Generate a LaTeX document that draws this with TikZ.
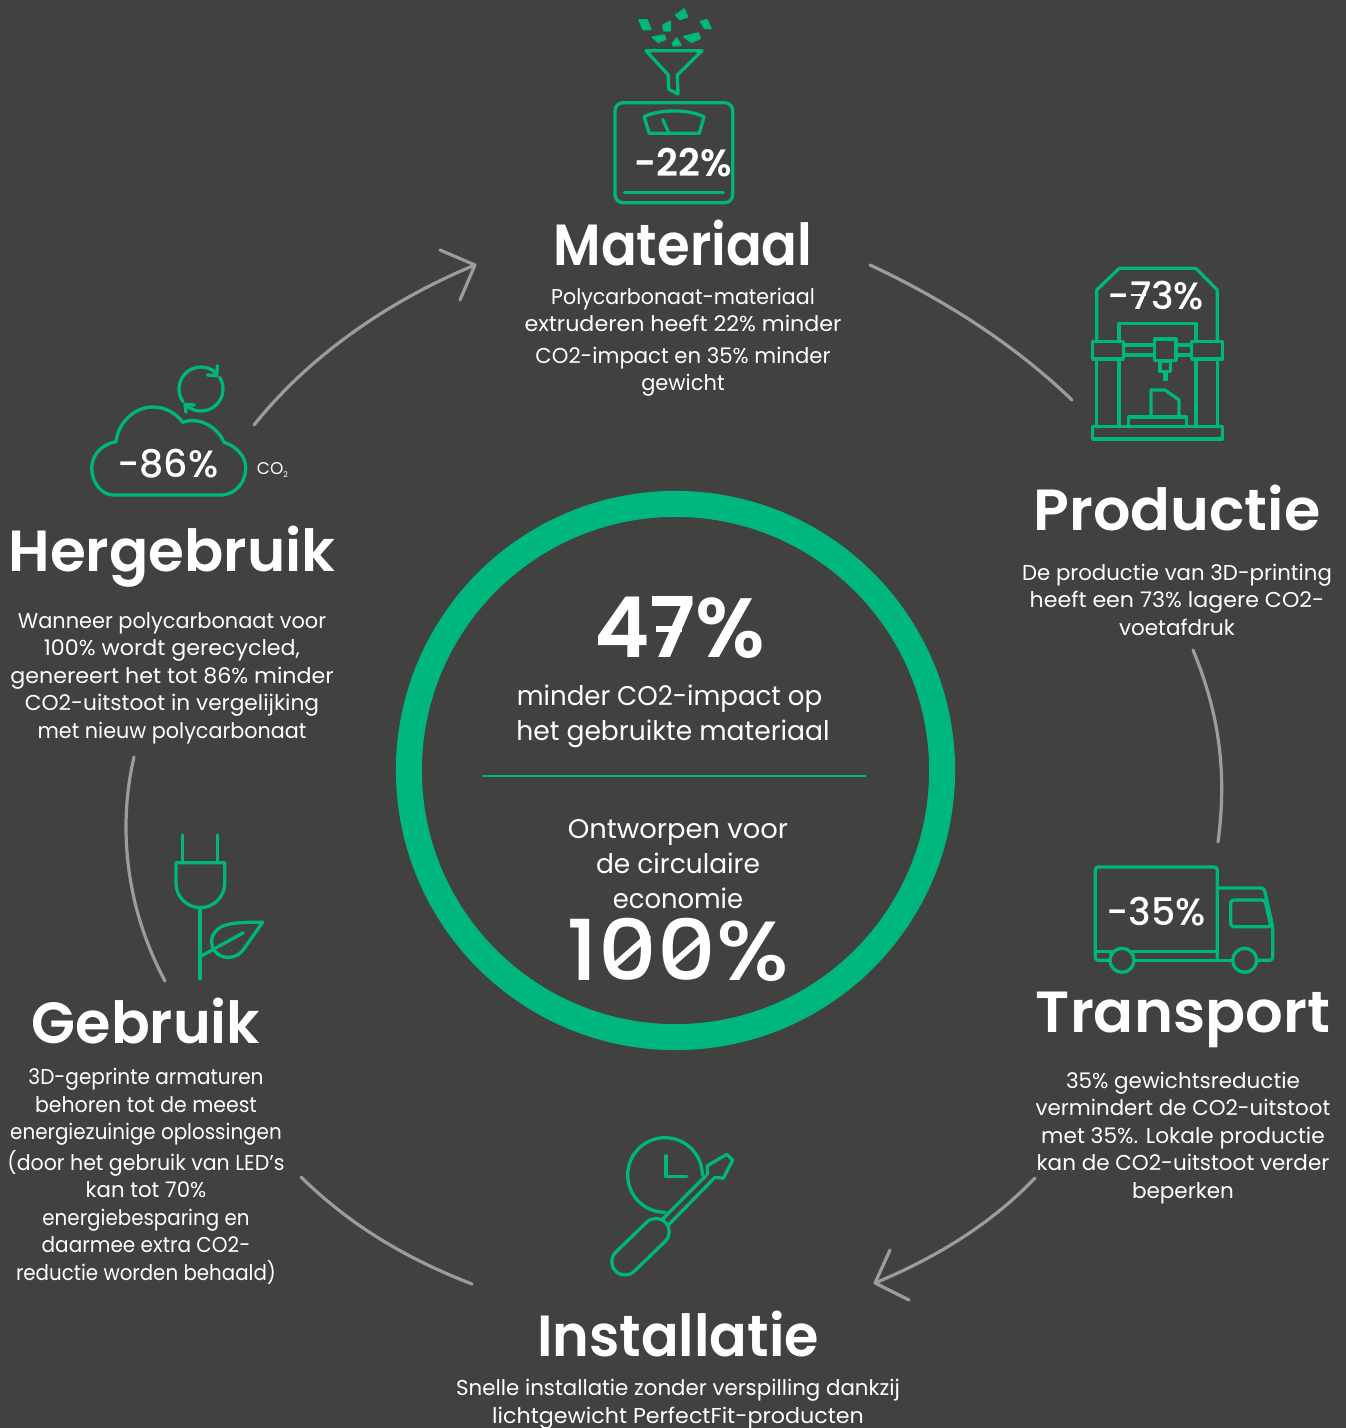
\documentclass[tikz,border=0pt]{standalone}
\usepackage{graphicx}
\usepackage{fontspec}
\setmainfont{Poppins}
\newfontfamily\hd{Poppins SemiBold}
\newfontfamily\md{Poppins Medium}
\definecolor{bgc}{HTML}{41413F}
\definecolor{grn}{HTML}{00B67F}
\definecolor{gry}{HTML}{9C9C9A}
\newcommand{\LL}[2]{\scalebox{#1}[1]{#2}}
\tikzset{
 icon/.style={draw=grn,line width=3.3pt,line join=round,line cap=round},
 bit/.style={draw=grn,fill=grn,line width=2pt,line join=round},
 conn/.style={draw=gry,line width=3.2pt,line cap=round,line join=round},
 head/.style={text=white,inner sep=0pt,font=\hd\fontsize{58}{60}\selectfont},
 body/.style={text=white,inner sep=0pt,align=center,font=\fontsize{21.5}{27.5}\selectfont},
 big/.style={text=white,inner sep=0pt,align=center,font=\fontsize{27}{35}\selectfont},
 pct/.style={text=white,inner sep=0pt,font=\md\fontsize{38}{40}\selectfont},
 huge/.style={text=white,inner sep=0pt,font=\hd\fontsize{84}{88}\selectfont},
 slash/.style={draw=white,line width=6pt},
}
\begin{document}
\begin{tikzpicture}[x=1pt,y=1pt,yscale=-1]
\useasboundingbox (0,0) rectangle (1346,1428);
\fill[bgc] (0,0) rectangle (1346,1428);
% central ring
\draw[grn,line width=26pt] (675.5,770.5) circle (266.6);
\coordinate (ringL) at (482,776);
\coordinate (ringR) at (866,776);
\draw[grn,line width=2.4pt] (ringL) -- (ringR);
\node[huge] (n47) at (680,627) {47\%};
\draw[slash] (656,628.5) -- (682,628.5);
\node[big] (t47) at (673,716) {\LL{.965}{minder CO2-impact op}\hspace*{7pt}\\\LL{.984}{het gebruikte materiaal}};
\node[big] (tont) at (678,864) {\LL{1.014}{Ontworpen voor}\\\LL{.98}{de circulaire}\\\LL{.956}{economie}};
\node[huge,font=\md\fontsize{84}{88}\selectfont] (n100) at (678,950) {\LL{1.09}{100\%}};
\draw[slash] (615,965) -- (649,935);
\draw[slash] (671,965) -- (705,935);
% connectors
\coordinate (c1a) at (254,425); \coordinate (c1b) at (475,265);
\coordinate (c1x) at (440,250); \coordinate (c1y) at (460,300);
\coordinate (c2a) at (870,265); \coordinate (c2b) at (1072,400);
\coordinate (c3a) at (1193,650); \coordinate (c3b) at (1218,842);
\coordinate (c4a) at (1035,1178); \coordinate (c4b) at (875,1283);
\coordinate (c4x) at (890,1250); \coordinate (c4y) at (909,1300);
\coordinate (c5a) at (472,1284); \coordinate (c5b) at (301,1177);
\coordinate (c6a) at (165,981); \coordinate (c6b) at (134,757);
\draw[conn] (c1a) .. controls (310,355) and (390,300) .. (c1b);
\draw[conn] (c1x) -- (c1b) -- (c1y);
\draw[conn] (c2a) .. controls (945,300) and (1015,345) .. (c2b);
\draw[conn] (c3a) .. controls (1220,715) and (1227,775) .. (c3b);
\draw[conn] (c4a) .. controls (990,1225) and (935,1258) .. (c4b);
\draw[conn] (c4x) -- (c4b) -- (c4y);
\draw[conn] (c5a) .. controls (405,1258) and (350,1225) .. (c5b);
\draw[conn] (c6a) .. controls (127,910) and (117,830) .. (c6b);
% Materiaal
\node[head] (hM) at (683,243) {\LL{.911}{Materiaal}};
\node[body] (bM) at (683,342) {\LL{.957}{Polycarbonaat-materiaal}\\\LL{1.033}{extruderen heeft 22\% minder}\\[4pt]\LL{.987}{CO2-impact en 35\% minder}\\\LL{.977}{gewicht}};
\foreach \p in {
 {(639.3,20)--(646.7,20)--(650.7,29.3)--(643.3,29.3)--cycle},
 {(663.3,25)--(670,21.7)--(670,30.7)--(664,30.7)--cycle},
 {(676,15)--(684,9.3)--(687.3,16.7)--(680,19.3)--cycle},
 {(700.7,21.7)--(706.7,20)--(710.7,28.3)--(705,28.3)--cycle},
 {(652.7,37.3)--(664,35.3)--(665.3,39.3)--(658.3,42)--cycle},
 {(672.7,43.3)--(676.7,38.3)--(680.7,45)--(673.3,45.7)--cycle},
 {(684,36.7)--(698.3,33.3)--(700,38.3)--(691.7,42)--cycle}}
 {\draw[bit] \p;}
\draw[icon] (646,50.7) -- (702,50.7) -- (677.3,75) -- (678,94) -- (668.7,89.3) -- (668.3,75) -- cycle;
\draw[icon,rounded corners=8pt] (615,102.7) rectangle (732.7,202.7);
\draw[icon] (624.3,192.3) -- (723.3,192.3);
\draw[icon] (644,116.7) .. controls (660,109) and (688,109) .. (704,116.7) -- (699.3,133.3) -- (649.3,133.3) -- cycle;
\draw[icon,line width=3pt] (662.7,119.3) -- (668.7,132.7);
\node[pct,font=\hd\fontsize{38}{40}\selectfont] (pM) at (683,162.5) {-22\%};
% Productie
\node[head] (hP) at (1177,508) {\LL{1.014}{Productie}};
\node[body] (bP) at (1177,599.5) {\LL{.99}{De productie van 3D-printing}\\\LL{1.03}{heeft een 73\% lagere CO2-}\\voetafdruk};
\draw[icon] (1096.7,341.7) -- (1096.7,290) -- (1119.3,268.3) -- (1196,268.3) -- (1217.3,290) -- (1217.3,341.7);
\draw[icon] (1119,341.7) -- (1119,323.3) -- (1196,323.3) -- (1196,341.7);
\draw[icon] (1092.7,341.7) rectangle (1123.3,359);
\draw[icon] (1191.7,341.7) rectangle (1222.7,359);
\draw[icon] (1123.3,345) -- (1154.3,345) (1123.3,355) -- (1154.3,355) (1176,345) -- (1191.7,345) (1176,355) -- (1191.7,355);
\draw[icon] (1154.3,339) rectangle (1176,360.3);
\draw[icon] (1160,361) rectangle (1170.7,371.7);
\draw[icon,line width=5pt,line cap=butt] (1165,371.7) -- (1165,381);
\draw[icon] (1096.7,359) -- (1096.7,426.7) (1119,359) -- (1119,426.7) (1196,359) -- (1196,426.7) (1217.3,359) -- (1217.3,426.7);
\draw[icon] (1092.7,426.7) rectangle (1222.7,439);
\draw[icon] (1128.3,426.7) -- (1128.3,417) -- (1186.7,417) -- (1186.7,426.7);
\draw[icon] (1151,417) -- (1151,390) -- (1165,390) -- (1179,400) -- (1179,417);
\node[pct] (pP) at (1156,296) {-73\%};
\draw[slash,line width=2.6pt] (1131,295) -- (1146,295);
% Transport
\node[head] (hT) at (1183,1020) {\LL{1.02}{Transport}};
\node[body] (bT) at (1183,1138) {35\% gewichtsreductie\\\LL{.993}{vermindert de CO2-uitstoot}\\\LL{1.01}{met 35\%. Lokale productie}\\kan de CO2-uitstoot verder\\beperken};
\draw[icon,rounded corners=3pt] (1095.3,952) -- (1095.3,867) -- (1217.3,867) -- (1217.3,958);
\draw[icon] (1095.3,951.7) -- (1217.3,951.7);
\draw[icon,rounded corners=3pt] (1095.3,950) -- (1095.3,960.3) -- (1110,960.3);
\draw[icon] (1134,960.3) -- (1232.7,960.3);
\draw[icon,rounded corners=3pt] (1256.7,960.3) -- (1272.7,960.3) -- (1272.7,926.7) -- (1264,888) -- (1217.3,888);
\draw[icon,rounded corners=3pt] (1230.7,900) -- (1265,900) -- (1271,926.7) -- (1230.7,926.7) -- cycle;
\draw[icon,fill=bgc] (1122,960.3) circle (12);
\draw[icon,fill=bgc] (1244.7,960.3) circle (12);
\node[pct] (pT) at (1156,912) {-35\%};
% Installatie
\node[head] (hI) at (678,1334) {\LL{.959}{Installatie}};
\node[body] (bI) at (678,1404) {\LL{.993}{Snelle installatie zonder verspilling dankzij}\\\LL{1.033}{lichtgewicht PerfectFit-producten}};
\draw[icon] (702.3,1175) arc[start angle=0,end angle=-270,radius=37.3];
\draw[icon] (666,1155.7) -- (666,1176.7) -- (686.7,1176.7);
\draw[icon] (661.7,1220) -- (705.7,1175.7) (707.3,1174.3) -- (707.3,1165.7) -- (726.7,1154.3) -- (732.7,1160) -- (723.3,1178.3) -- (715,1177.3) -- (668.3,1225);
\draw[icon] (634.2,1271.3) -- (665.2,1241.3) arc[start angle=46,end angle=-134,radius=13.3] -- (615.8,1252.1) arc[start angle=-134,end angle=-314,radius=13.3] -- cycle;
% Gebruik
\node[head] (hG) at (146,1021) {\LL{.987}{Gebruik}};
\node[body] (bG) at (146,1176.5) {\LL{.933}{3D-geprinte armaturen}\\\LL{.953}{behoren tot de meest}\\\LL{.925}{energiezuinige oplossingen}\\[3pt]\LL{.955}{(door het gebruik van LED's}\\\LL{.99}{kan tot 70\%}\\\LL{.924}{energiebesparing en}\\\LL{.933}{daarmee extra CO2-}\\\LL{.922}{reductie worden behaald)}};
\draw[icon] (182.7,835) -- (182.7,862.7) (217.3,835) -- (217.3,862.7);
\draw[icon] (176,862.7) -- (224.7,862.7) -- (224.7,883.3) arc[start angle=0,end angle=180,radius=24.35] -- cycle;
\draw[icon] (200,907.7) -- (200,979);
\draw[icon] (200,956.7) -- (243.3,932.7);
\draw[icon] (262.7,922.3) .. controls (240,922) and (225,923) .. (218,929) .. controls (209,936) and (209,950) .. (221,956) .. controls (228,959) and (238,957) .. (243,950) -- cycle;
% Hergebruik
\node[head] (hH) at (172,557) {Hergebruik};
\node[body] (bH) at (172,678) {\LL{.972}{Wanneer polycarbonaat voor}\\\LL{1.032}{100\% wordt gerecycled,}\\\LL{1.032}{genereert het tot 86\% minder}\\\LL{1.01}{CO2-uitstoot in vergelijking}\\\LL{.964}{met nieuw polycarbonaat}};
\draw[icon] (113.3,495) -- (220,495) .. controls (236,495) and (245.7,482) .. (245.7,468) .. controls (245.7,456) and (236,446) .. (224,442.3) .. controls (218,428) and (200,416) .. (182.7,422.3) .. controls (176,413) and (165,407) .. (153,407) .. controls (133,407) and (118,424) .. (116,441.7) .. controls (102,444) and (91.7,455) .. (91.7,468) .. controls (91.7,483) and (102,495) .. (113.3,495) -- cycle;
\draw[icon] (201,389) ++(-48:22) arc[start angle=-48,end angle=-215,radius=22];
\draw[icon] (201,389) ++(-32:22) arc[start angle=-32,end angle=132,radius=22];
\draw[icon] (217.3,365.7) -- (216.7,375.7) -- (207.3,375);
\draw[icon] (186,412.3) -- (185,404.3) -- (194.3,405);
\node[pct] (pH) at (168,463.5) {-86\%};
\node[text=white,inner sep=0pt,font=\fontsize{17}{18}\selectfont] (co) at (272.5,470) {CO\raisebox{-3pt}{\fontsize{8}{8}\selectfont 2}};
\end{tikzpicture}
\end{document}
